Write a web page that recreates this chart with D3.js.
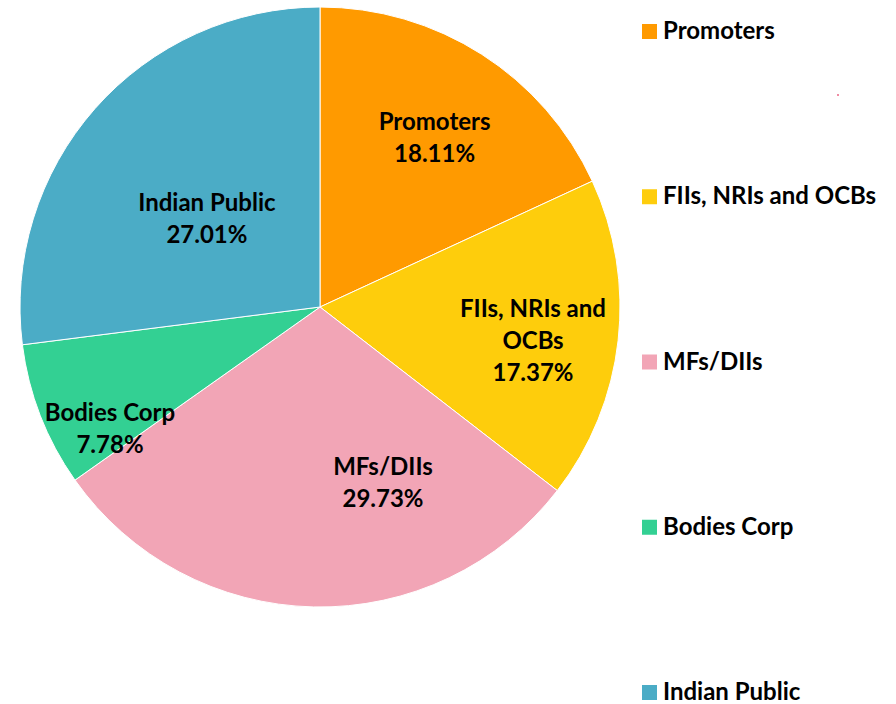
<!DOCTYPE html>
<html>
<head>
<meta charset="utf-8">
<script src="https://cdn.jsdelivr.net/npm/d3@7"></script>
<style>
  html, body { margin: 0; padding: 0; background: #fff; }
  svg { display: block; }
  text { font-family: Lato, "Open Sans", sans-serif; font-weight: 700; fill: #000; }
</style>
</head>
<body>
<svg id="chart" width="896" height="704"></svg>
<script>
// ---- data ----
const categories = ["Promoters", "FIIs, NRIs and OCBs", "MFs/DIIs", "Bodies Corp", "Indian Public"];
const values = [18.11, 17.37, 29.73, 7.78, 27.01];
const labelLines = [["Promoters"], ["FIIs, NRIs and", "OCBs"], ["MFs/DIIs"], ["Bodies Corp"], ["Indian Public"]];
const colors = ["#FF9A00", "#FECD0C", "#F2A5B6", "#33D093", "#4BACC6"];

// ---- layout ----
const W = 896, H = 704;
const cx = 320, cy = 307, R = 300;
const fontSize = 24, lineH = 32;
// label block centre as fraction of radius (Excel best-fit placement)
const labelOffsets = [[0.382, -0.567], [0.71, 0.11], [0.21, 0.585], [-0.70, 0.405], [-0.377, -0.297]];

const svg = d3.select("#chart");
const g = svg.append("g").attr("transform", `translate(${cx},${cy})`);

const pie = d3.pie().sort(null).value(d => d.value);
const data = categories.map((c, i) => ({ name: c, value: values[i], i }));
const arcs = pie(data);
const arc = d3.arc().innerRadius(0).outerRadius(R);

g.selectAll("path.slice").data(arcs).enter().append("path")
  .attr("class", "slice")
  .attr("d", arc)
  .attr("fill", d => colors[d.data.i])
  .attr("stroke", "#fff")
  .attr("stroke-width", 1);

const fmt = d3.format(".2f");
arcs.forEach(d => {
  const i = d.data.i;
  const lines = labelLines[i].concat([fmt(d.data.value) + "%"]);
  const [fx, fy] = labelOffsets[i];
  const x = fx * R, y = fy * R;
  const n = lines.length;
  const capH = fontSize * 0.72;
  const firstBase = y - ((n - 1) * lineH) / 2 + capH / 2;
  const t = g.append("text").attr("text-anchor", "middle").style("font-size", fontSize + "px");
  lines.forEach((ln, k) => {
    t.append("tspan").attr("x", x).attr("y", firstBase + k * lineH).text(ln);
  });
});

// ---- legend ----
const legY = d3.scalePoint().domain(categories).range([39, 700]);
const leg = svg.append("g");
categories.forEach((c, i) => {
  const by = legY(c);
  leg.append("rect").attr("x", 642).attr("y", by - 15).attr("width", 15).attr("height", 15).attr("fill", colors[i]);
  leg.append("text").attr("x", 663).attr("y", by).style("font-size", fontSize + "px").text(c);
});

// small stray mark present in the reference
svg.append("rect").attr("x", 837).attr("y", 94).attr("width", 2).attr("height", 2).attr("fill", "#F08CA4");
</script>
</body>
</html>
